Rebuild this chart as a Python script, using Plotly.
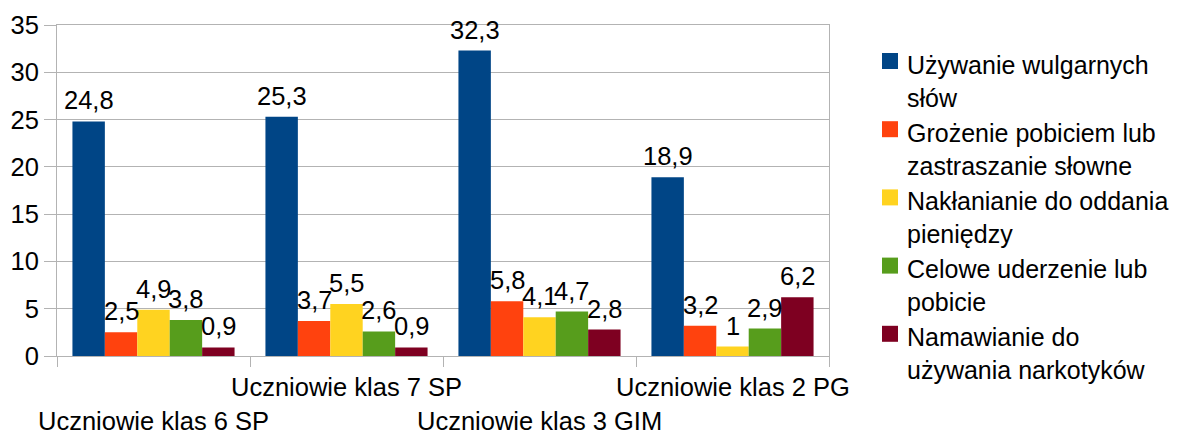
import plotly.graph_objects as go

categories = ["Uczniowie klas 6 SP", "Uczniowie klas 7 SP", "Uczniowie klas 3 GIM", "Uczniowie klas 2 PG"]
series_names = [
    "Używanie wulgarnych<br>słów",
    "Grożenie pobiciem lub<br>zastraszanie słowne",
    "Nakłanianie do oddania<br>pieniędzy",
    "Celowe uderzenie lub<br>pobicie",
    "Namawianie do<br>używania narkotyków",
]
vulgar = [24.8, 25.3, 32.3, 18.9]
threat = [2.5, 3.7, 5.8, 3.2]
money = [4.9, 5.5, 4.1, 1.0]
hit = [3.8, 2.6, 4.7, 2.9]
drugs = [0.9, 0.9, 2.8, 6.2]
series_values = [vulgar, threat, money, hit, drugs]
colors = ["#004586", "#ff420e", "#ffd320", "#579d1c", "#7e0021"]
y_ticks = [0, 5, 10, 15, 20, 25, 30, 35]

FONT = "Liberation Sans, Arial, sans-serif"
FS = 25.5
FS_LEG = 25
GRID = "#b3b3b3"

OFF = 8  # page body margin
# plot area in screen pixels
L, R, T, B = 57, 829, 25, 356
W, H = 1177 - OFF, 435 - OFF
BARGAP = 0.16
N = len(series_values)
cat_px = (R - L) / len(categories)
bar_px = cat_px * (1 - BARGAP) / N


def py2paper(py):
    return (B - py) / (B - T)


def px2paper(px):
    return (px - L) / (R - L)


def fmt(v):
    return f"{v:g}".replace(".", ",")


fig = go.Figure()
annotations = []
shapes = []
for i, (name, vals, col) in enumerate(zip(series_names, series_values, colors)):
    fig.add_trace(go.Bar(
        x=categories, y=vals, name=name, marker=dict(color=col, line=dict(width=0)),
        showlegend=False,
    ))
    for cat, v in zip(categories, vals):
        annotations.append(dict(
            x=cat, xref="x", y=v, yref="y", text=fmt(v), showarrow=False,
            xanchor="center", yanchor="bottom", xshift=(i - (N - 1) / 2) * bar_px, yshift=5,
            font=dict(family=FONT, size=FS, color="black"),
        ))

# staggered category labels
label_y = [421, 387, 421, 387]
for cat, ly in zip(categories, label_y):
    annotations.append(dict(
        x=cat, xref="x", y=py2paper(ly), yref="paper", text=cat, showarrow=False,
        xanchor="center", yanchor="middle", font=dict(family=FONT, size=FS, color="black"),
    ))

# custom legend
for i, (name, col) in enumerate(zip(series_names, colors)):
    mid = 81 + 68.2 * i
    sq_c = mid - 20
    shapes.append(dict(
        type="rect", xref="paper", yref="paper",
        x0=px2paper(882), x1=px2paper(898),
        y0=py2paper(sq_c + 8), y1=py2paper(sq_c - 8),
        fillcolor=col, line=dict(width=0),
    ))
    annotations.append(dict(
        x=px2paper(905), xref="paper", y=py2paper(mid), yref="paper", text=name,
        showarrow=False, xanchor="left", yanchor="middle", align="left",
        font=dict(family=FONT, size=FS_LEG, color="black"),
    ))

fig.update_layout(
    width=W, height=H,
    margin=dict(l=L - OFF, r=W - (R - OFF), t=T - OFF, b=H - (B - OFF), pad=0, autoexpand=False),
    paper_bgcolor="white", plot_bgcolor="white",
    barmode="group", bargap=BARGAP, bargroupgap=0,
    separators=",.",
    font=dict(family=FONT, size=FS, color="black"),
    annotations=annotations, shapes=shapes,
    showlegend=False,
    xaxis=dict(
        type="category", range=[-0.5, len(categories) - 0.5], autorange=False,
        showticklabels=False, tickson="boundaries", automargin=False,
        ticks="outside", ticklen=10, tickcolor=GRID, tickwidth=1,
        showline=True, linecolor=GRID, linewidth=1, mirror=True,
        showgrid=False, zeroline=False,
    ),
    yaxis=dict(
        range=[0, 35], autorange=False, tickvals=y_ticks, ticks="outside", ticklen=12,
        automargin=False,
        tickcolor=GRID, tickwidth=1, showgrid=True, gridcolor=GRID, gridwidth=1,
        showline=True, linecolor=GRID, linewidth=1, mirror=True,
        zeroline=True, zerolinecolor=GRID, zerolinewidth=1,
        tickfont=dict(family=FONT, size=FS, color="black"),
    ),
)

fig.write_html("out.html")
